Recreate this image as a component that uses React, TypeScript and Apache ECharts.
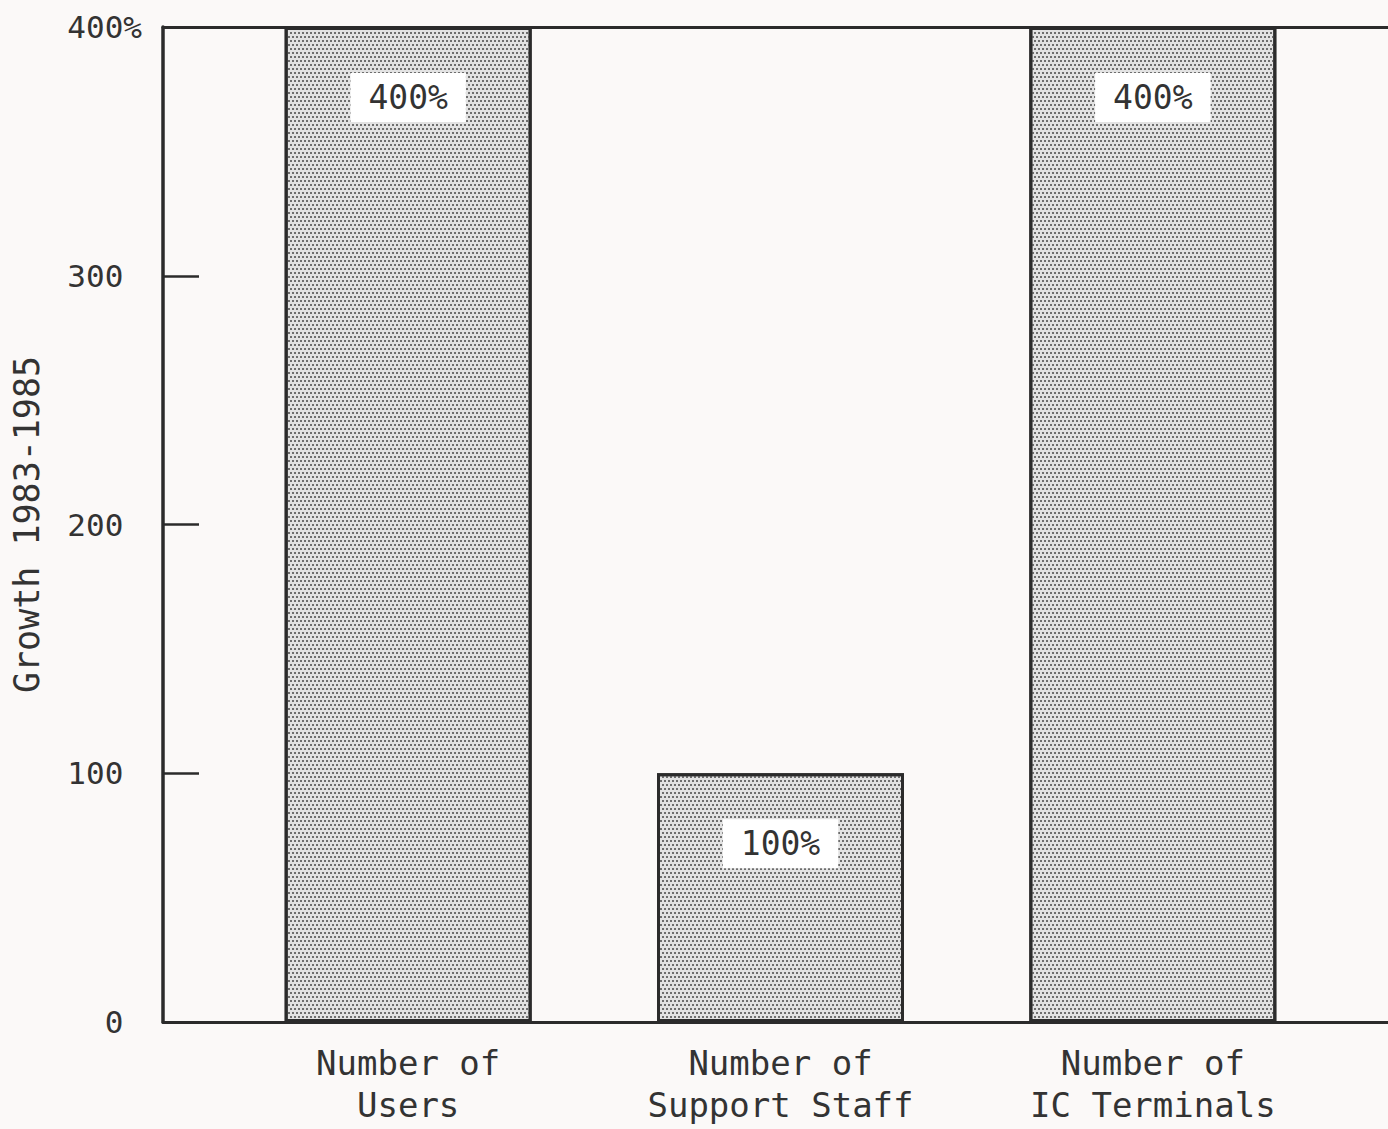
import React, { useEffect, useRef } from "react";
import * as echarts from "echarts";

const categories = ["Number of\nUsers", "Number of\nSupport Staff", "Number of\nIC Terminals"];
const growthValues = [400, 100, 400];
const yTicks = [0, 100, 200, 300, 400];
const yAxisTitle = "Growth 1983-1985";

const FONT = "'DejaVu Sans Mono', 'Liberation Mono', monospace";
const INK = "#2b2b2b";

export default function App() {
  const ref = useRef<HTMLDivElement>(null);
  useEffect(() => {
    if (!ref.current) return;
    const chart = echarts.init(ref.current, undefined, { renderer: "svg" });
    const yMin = yTicks[0];
    const yMax = yTicks[yTicks.length - 1];
    const step = yTicks[1] - yTicks[0];
    chart.setOption({
      animation: false,
      backgroundColor: "#fbf9f8",
      textStyle: { fontFamily: FONT },
      grid: [
        { left: 163, right: 0, top: 27, bottom: 107, outerBoundsMode: "none", containLabel: false },
        { left: 222, right: 49, top: 27, bottom: 107, outerBoundsMode: "none", containLabel: false },
      ],
      xAxis: [
        {
          gridIndex: 0, type: "value", position: "bottom", min: 0, max: 1,
          axisLine: { show: true, lineStyle: { color: INK, width: 3 } },
          axisTick: { show: false }, axisLabel: { show: false }, splitLine: { show: false },
        },
        {
          gridIndex: 0, type: "value", position: "top", min: 0, max: 1,
          axisLine: { show: true, lineStyle: { color: INK, width: 3 } },
          axisTick: { show: false }, axisLabel: { show: false }, splitLine: { show: false },
        },
        {
          gridIndex: 1, type: "category", data: categories,
          axisLine: { show: false }, axisTick: { show: false },
          axisLabel: { color: "#333", fontSize: 34, fontFamily: FONT, lineHeight: 42, margin: 20 },
        },
      ],
      yAxis: [
        {
          gridIndex: 0, type: "value", min: yMin, max: yMax, interval: step,
          name: yAxisTitle, nameLocation: "middle", nameRotate: 90, nameGap: 119,
          nameMoveOverlap: false,
          nameTextStyle: { color: "#333", fontSize: 35, fontFamily: FONT },
          axisLine: { show: true, lineStyle: { color: INK, width: 3.5 } },
          axisTick: { show: true, inside: true, length: 36, lineStyle: { color: INK, width: 2.5 } },
          axisLabel: {
            margin: 21, color: "#333", fontSize: 31, fontFamily: FONT,
            formatter: (v: number) => (v === yMax ? `${v}%` : `${v}{h|%}`),
            rich: { h: { color: "rgba(0,0,0,0)", fontSize: 31, fontFamily: FONT } },
          },
          splitLine: { show: false },
        },
        {
          gridIndex: 1, type: "value", min: yMin, max: yMax, interval: step, show: false,
        },
      ],
      series: [
        {
          type: "bar", xAxisIndex: 2, yAxisIndex: 1, data: growthValues, barWidth: 247,
          itemStyle: {
            color: "#e2e2e2", borderColor: INK, borderWidth: 3,
            decal: {
              symbol: "rect", symbolSize: 1, color: "#6e6e6e",
              dashArrayX: [[2, 2], [0, 2, 2, 0]], dashArrayY: [2, 2], rotation: 0,
            },
          },
          label: {
            show: true, position: "insideTop", distance: 46, formatter: "{c}%",
            color: "#333", fontSize: 33, fontFamily: FONT,
            backgroundColor: "#ffffff", padding: [8, 18, 8, 18],
          },
        },
      ],
    });
    return () => chart.dispose();
  }, []);
  return <div ref={ref} style={{ position: "absolute", left: 0, top: 0, width: 1388, height: 1129 }} />;
}
